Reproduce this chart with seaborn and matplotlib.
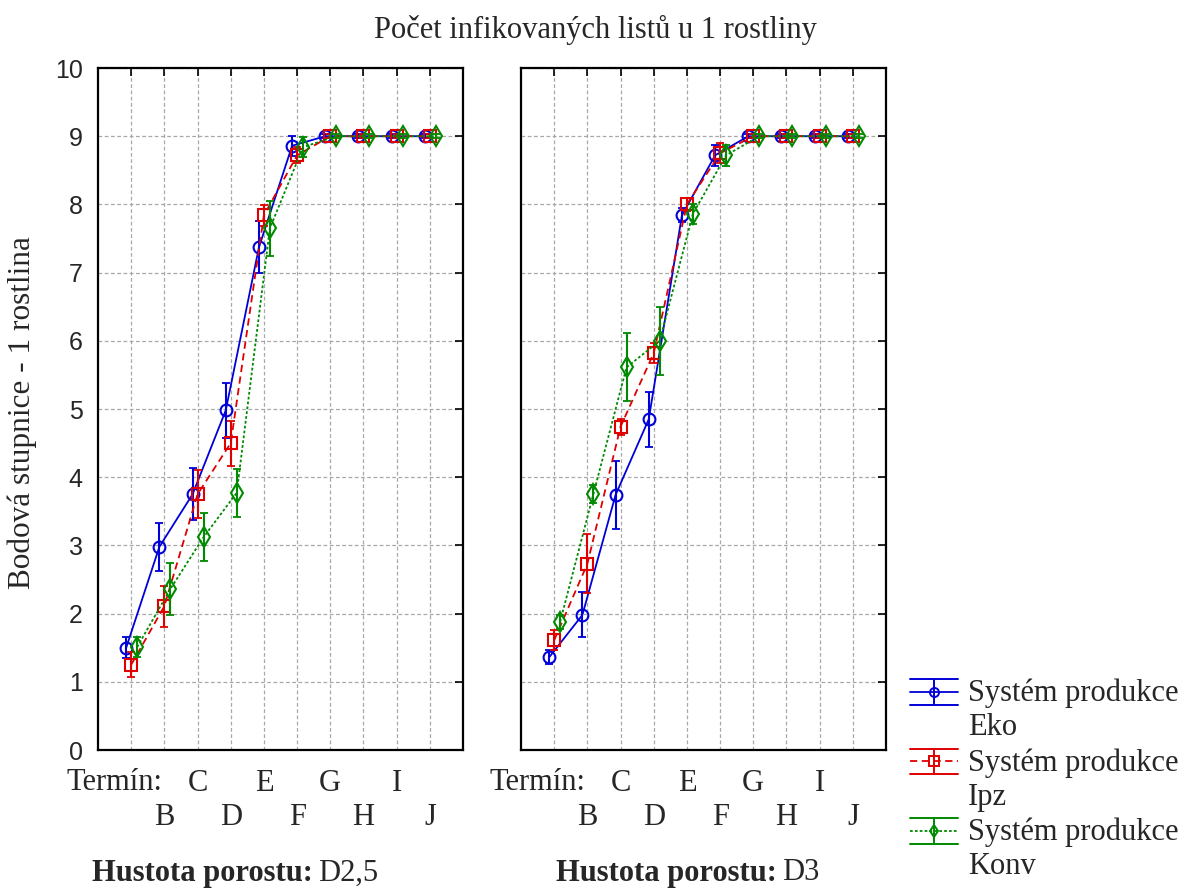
import numpy as np
import pandas as pd
import matplotlib
matplotlib.use("Agg")
import matplotlib.pyplot as plt
import seaborn as sns
from matplotlib.lines import Line2D
from matplotlib.legend_handler import HandlerBase
from matplotlib.ticker import FixedLocator, FixedFormatter

terms = ["A", "B", "C", "D", "E", "F", "G", "H", "I", "J"]
systems = ["Eko", "Ipz", "Konv"]
densities = ["D2,5", "D3"]

# D2,5 means
d25_eko = [1.50, 2.98, 3.75, 4.98, 7.37, 8.86, 9.0, 9.0, 9.0, 9.0]
d25_ipz = [1.25, 2.11, 3.75, 4.50, 7.84, 8.72, 9.0, 9.0, 9.0, 9.0]
d25_konv = [1.51, 2.36, 3.12, 3.77, 7.65, 8.84, 9.0, 9.0, 9.0, 9.0]
# D2,5 error half-widths
d25_eko_err = [0.15, 0.35, 0.38, 0.40, 0.38, 0.15, 0.03, 0.03, 0.03, 0.03]
d25_ipz_err = [0.18, 0.30, 0.35, 0.33, 0.15, 0.12, 0.03, 0.03, 0.03, 0.03]
d25_konv_err = [0.15, 0.38, 0.35, 0.35, 0.40, 0.15, 0.03, 0.03, 0.03, 0.03]

# D3 means
d3_eko = [1.36, 1.98, 3.74, 4.85, 7.84, 8.72, 9.0, 9.0, 9.0, 9.0]
d3_ipz = [1.61, 2.73, 4.74, 5.82, 8.00, 8.75, 9.0, 9.0, 9.0, 9.0]
d3_konv = [1.88, 3.75, 5.61, 6.00, 7.86, 8.72, 9.0, 9.0, 9.0, 9.0]
# D3 error half-widths
d3_eko_err = [0.10, 0.33, 0.50, 0.40, 0.10, 0.15, 0.03, 0.03, 0.03, 0.03]
d3_ipz_err = [0.15, 0.43, 0.12, 0.15, 0.10, 0.15, 0.03, 0.03, 0.03, 0.03]
d3_konv_err = [0.10, 0.13, 0.50, 0.50, 0.15, 0.15, 0.03, 0.03, 0.03, 0.03]

title = "Počet infikovaných listů u 1 rostliny"
ylabel = "Bodová stupnice - 1 rostlina"
xlabel = "Termín:"
caption = "Hustota porostu:"

means = {"D2,5": [d25_eko, d25_ipz, d25_konv], "D3": [d3_eko, d3_ipz, d3_konv]}
errs = {"D2,5": [d25_eko_err, d25_ipz_err, d25_konv_err], "D3": [d3_eko_err, d3_ipz_err, d3_konv_err]}

rows = []
for d in densities:
    for si, s in enumerate(systems):
        for ti, t in enumerate(terms):
            rows.append({"density": d, "system": s, "term": t, "ti": ti,
                         "mean": means[d][si][ti], "err": errs[d][si][ti]})
df = pd.DataFrame(rows)

sns.set_theme(style="white")
plt.rcParams["font.family"] = ["Liberation Serif", "DejaVu Serif"]

FS = 22
colors = {"Eko": "#0000d8", "Ipz": "#e00000", "Konv": "#008a00"}
markers = {"Eko": "o", "Ipz": "s", "Konv": "d"}
msizes = {"Eko": 8.5, "Ipz": 8, "Konv": 10}
styles = {"Eko": "-", "Ipz": (0, (4, 2.5)), "Konv": (0, (1.5, 1.2))}
offsets = {"Eko": -0.15, "Ipz": 0.0, "Konv": 0.18}

fig = plt.figure(figsize=(11.89, 8.91), dpi=100)
W, H = 1189, 891
axes = []
for lx in (98, 521):
    ax = fig.add_axes([lx / W, 1 - 750 / H, 365 / W, (750 - 68) / H])
    axes.append(ax)

even_pos = [i for i in range(len(terms)) if i % 2 == 0]
odd_pos = [i for i in range(len(terms)) if i % 2 == 1]
even_lab = ["" if i == 0 else terms[i] for i in even_pos]
odd_lab = [terms[i] for i in odd_pos]

for ax, d in zip(axes, densities):
    sub = df[df.density == d].copy()
    sub["x"] = sub["ti"] + sub["system"].map(offsets)
    for s in systems:
        ss = sub[sub.system == s]
        sns.lineplot(data=ss, x="x", y="mean", ax=ax, color=colors[s],
                     linestyle=styles[s], linewidth=1.3, marker=markers[s],
                     markersize=msizes[s], markerfacecolor="none",
                     markeredgecolor=colors[s], markeredgewidth=1.5,
                     legend=False, errorbar=None, sort=False, zorder=3)
        ax.errorbar(ss["x"], ss["mean"], yerr=ss["err"], fmt="none",
                    ecolor=colors[s], elinewidth=1.5, capsize=3, capthick=1.3, zorder=3)
    ax.set_xlim(-1, 10)
    ax.set_ylim(0, 10)
    ax.xaxis.set_major_locator(FixedLocator(even_pos))
    ax.xaxis.set_major_formatter(FixedFormatter(even_lab))
    ax.xaxis.set_minor_locator(FixedLocator(odd_pos))
    ax.xaxis.set_minor_formatter(FixedFormatter(odd_lab))
    ax.set_yticks(range(0, 11))
    ax.grid(True, which="both", axis="x", color="#a8a8a8", linestyle=(0, (3, 2)), linewidth=0.9)
    ax.grid(True, which="major", axis="y", color="#a8a8a8", linestyle=(0, (3, 2)), linewidth=0.9)
    ax.tick_params(which="both", direction="in", top=True, right=True, length=6, width=1.2,
                   color="black")
    ax.tick_params(axis="x", which="major", pad=14, labelsize=FS)
    ax.tick_params(axis="x", which="minor", pad=38, labelsize=FS)
    for sp in ax.spines.values():
        sp.set_color("black")
        sp.set_linewidth(1.6)
    ax.set_xlabel("")
    ax.set_ylabel("")
    ax.text(-0.5, -0.048, xlabel, transform=ax.get_xaxis_transform(),
            ha="center", va="center", fontsize=FS)

axes[0].set_yticklabels([str(v) for v in range(0, 11)],
                        fontsize=18, family=["Liberation Sans Narrow", "Liberation Sans", "DejaVu Sans"])
axes[0].tick_params(axis="y", pad=11)
axes[1].set_yticklabels([])

fig.text(595 / W, 1 - 30 / H, title, ha="center", va="center", fontsize=FS)
fig.text(22 / W, 1 - 413 / H, ylabel, ha="center", va="center", rotation=90, fontsize=22.5)

# density captions
fig.text(313 / W, 1 - 873 / H, caption, ha="right", va="center",
         fontsize=FS, fontweight="bold")
fig.text(318 / W, 1 - 873 / H, densities[0], ha="left", va="center", fontsize=FS)
fig.text(777 / W, 1 - 873 / H, caption, ha="right", va="center",
         fontsize=FS, fontweight="bold")
fig.text(782 / W, 1 - 873 / H, densities[1], ha="left", va="center", fontsize=FS)


class ErrHandler(HandlerBase):
    def __init__(self, color, marker, ls):
        super().__init__()
        self.c, self.m, self.ls = color, marker, ls

    def create_artists(self, legend, orig, xd, yd, width, height, fontsize, trans):
        y0 = height / 2 - yd + 0.62 * fontsize
        x0 = -xd
        h = height * 0.6
        return [
            Line2D([x0, x0 + width], [y0, y0], color=self.c, linestyle=self.ls, lw=1.3,
                   transform=trans),
            Line2D([x0, x0 + width], [y0 + h, y0 + h], color=self.c, lw=1.4, transform=trans),
            Line2D([x0, x0 + width], [y0 - h, y0 - h], color=self.c, lw=1.4, transform=trans),
            Line2D([x0 + width / 2] * 2, [y0 - h, y0 + h], color=self.c, lw=1.4, transform=trans),
            Line2D([x0 + width / 2], [y0], marker=self.m, markersize=6.5, markerfacecolor="none",
                   markeredgecolor=self.c, markeredgewidth=1.4, linestyle="none", transform=trans),
        ]


leg_handles = [Line2D([], []) for _ in systems]
handler_map = {h: ErrHandler(colors[s], markers[s], styles[s]) for h, s in zip(leg_handles, systems)}
leg = fig.legend(leg_handles, [f"Systém produkce\n{s}" for s in systems],
                 handler_map=handler_map, loc="upper left",
                 bbox_to_anchor=(910 / W, 1 - 679 / H), frameon=False, fontsize=FS,
                 handlelength=1.57, handletextpad=0.33, labelspacing=0.2,
                 borderpad=0.0, borderaxespad=0.0)
for t in leg.get_texts():
    t.set_linespacing(1.22)

fig.savefig("out.png", dpi=100, facecolor="white")
